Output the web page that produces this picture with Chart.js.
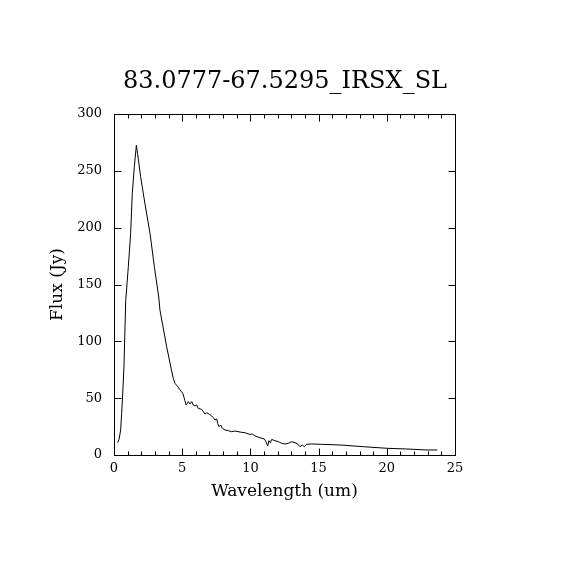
<!DOCTYPE html>
<html>
<head>
<meta charset="utf-8">
<script src="https://cdn.jsdelivr.net/npm/chart.js@4/dist/chart.umd.min.js"></script>
<style>
  html, body { margin: 0; padding: 0; background: #ffffff; }
  #wrap { width: 570px; height: 570px; }
</style>
</head>
<body>
<div id="wrap"><canvas id="c" width="570" height="570"></canvas></div>
<script>
const chartTitle = "83.0777-67.5295_IRSX_SL";
const xTitle = "Wavelength (um)";
const yTitle = "Flux (Jy)";

const wavelength = [0.27, 0.37, 0.49, 0.56, 0.61, 0.73, 0.86, 1.05, 1.22, 1.34, 1.49, 1.64,
  1.73, 1.95, 2.27, 2.64, 2.96, 3.28, 3.37, 3.5, 3.86, 4.2, 4.35, 4.47, 4.64, 4.84, 5.04, 5.13,
  5.2, 5.28, 5.38, 5.45, 5.57, 5.7, 5.81, 5.94, 6.06, 6.18, 6.43, 6.55, 6.67, 6.8, 6.99, 7.16,
  7.28, 7.4, 7.53, 7.6, 7.7, 7.82, 7.94, 8.14, 8.38, 8.63, 8.87, 9.24, 9.6, 9.97, 10.14, 10.34,
  10.7, 11.02, 11.14, 11.27, 11.36, 11.46, 11.56, 11.8, 12.05, 12.29, 12.54, 12.78, 13.03, 13.27,
  13.46, 13.63, 13.81, 13.95, 14.12, 14.49, 15.22, 16.57, 18.28, 20.0, 21.45, 22.93, 23.7];
const flux = [10.8, 13.7, 22, 36.6, 47, 77.6, 136, 165.6, 195, 230, 253.6, 272.6,
  265, 245, 221, 195, 165.6, 139, 127.5, 118.8, 95.3, 75.5, 67.4, 63, 60.7, 57.2, 54.3, 50.8,
  47.8, 44, 45.5, 47, 44.9, 47, 44, 43.1, 44, 41, 40.1, 38.1, 36, 37.2, 35.8, 34.3,
  32.8, 30.8, 31.7, 27.8, 24.9, 26.4, 23.5, 22, 21.4, 20.5, 21.1, 20.2, 19.6, 18.1, 18.5, 16.7,
  15.2, 14.1, 11.7, 7.9, 12.6, 10.8, 13.7, 12.6, 11.7, 10.3, 9.7, 10.3, 11.7, 10.8,
  9.7, 7.3, 8.8, 7.3, 9.4, 9.7, 9.4, 8.8, 7.3, 5.9, 5.3, 4.4, 4.4];

const xTicks = [0, 5, 10, 15, 20, 25];
const yTicks = [0, 50, 100, 150, 200, 250, 300];
const xMinorStep = 1;

const points = wavelength.map((w, i) => ({ x: w, y: flux[i] }));

const serif = "'DejaVu Serif', 'Liberation Serif', serif";

const frameTicks = {
  id: 'frameTicks',
  afterDraw(chart) {
    const { ctx, chartArea: a, scales } = chart;
    const xs = scales.x, ys = scales.y;
    ctx.save();
    ctx.strokeStyle = '#000';
    ctx.lineWidth = 1;
    ctx.beginPath();
    const L = Math.round(a.left) + 0.5, R = Math.round(a.right) + 0.5;
    const T = Math.round(a.top) + 0.5, B = Math.round(a.bottom) + 0.5;
    ctx.rect(L, T, R - L, B - T);
    const major = 7, minor = 4;
    for (let v = xs.min; v <= xs.max + 1e-9; v += xMinorStep) {
      const px = Math.round(xs.getPixelForValue(v)) + 0.5;
      const len = xTicks.includes(Math.round(v)) ? major : minor;
      ctx.moveTo(px, B); ctx.lineTo(px, B - len);
      ctx.moveTo(px, T); ctx.lineTo(px, T + len);
    }
    yTicks.forEach(v => {
      const py = Math.round(ys.getPixelForValue(v)) + 0.5;
      ctx.moveTo(L, py); ctx.lineTo(L + major, py);
      ctx.moveTo(R, py); ctx.lineTo(R - major, py);
    });
    ctx.stroke();
    ctx.restore();
  }
};

new Chart(document.getElementById('c'), {
  type: 'scatter',
  data: {
    datasets: [{
      data: points,
      showLine: true,
      borderColor: '#000',
      borderWidth: 1,
      pointRadius: 0,
      tension: 0,
      fill: false,
      yAxisID: 'y'
    }]
  },
  options: {
    responsive: false,
    animation: false,
    layout: { padding: 0 },
    plugins: {
      legend: { display: false },
      tooltip: { enabled: false },
      title: {
        display: true,
        text: chartTitle,
        color: '#000',
        font: { family: serif, size: 24, weight: 'normal', lineHeight: 1.2 },
        padding: { top: 67, bottom: 18.2 }
      }
    },
    scales: {
      x: {
        type: 'linear',
        min: 0, max: 25,
        afterFit: (s) => { s.height = 115; },
        afterBuildTicks: (s) => { s.ticks = xTicks.map(v => ({ value: v })); },
        grid: { display: false, drawTicks: false },
        border: { display: false },
        ticks: { color: '#000', padding: 6, maxRotation: 0, autoSkip: false,
                 font: { family: serif, size: 13 } },
        title: { display: true, text: xTitle, color: '#000',
                 font: { family: serif, size: 17, lineHeight: 1.2 },
                 padding: { top: 0, bottom: 68 } }
      },
      y: {
        type: 'linear',
        position: 'left',
        min: 0, max: 300,
        afterFit: (s) => { s.width = 114; },
        afterBuildTicks: (s) => { s.ticks = yTicks.map(v => ({ value: v })); },
        grid: { display: false, drawTicks: false },
        border: { display: false },
        ticks: { color: '#000', padding: 12, autoSkip: false,
                 font: { family: serif, size: 13 } },
        title: { display: true, text: yTitle, color: '#000',
                 font: { family: serif, size: 17, lineHeight: 1.2 },
                 padding: { top: 47, bottom: 0 } }
      },
      yRight: {
        type: 'linear',
        position: 'right',
        min: 0, max: 300,
        afterFit: (s) => { s.width = 115; },
        grid: { display: false, drawTicks: false },
        border: { display: false },
        ticks: { display: false }
      }
    }
  },
  plugins: [frameTicks]
});
</script>
</body>
</html>
